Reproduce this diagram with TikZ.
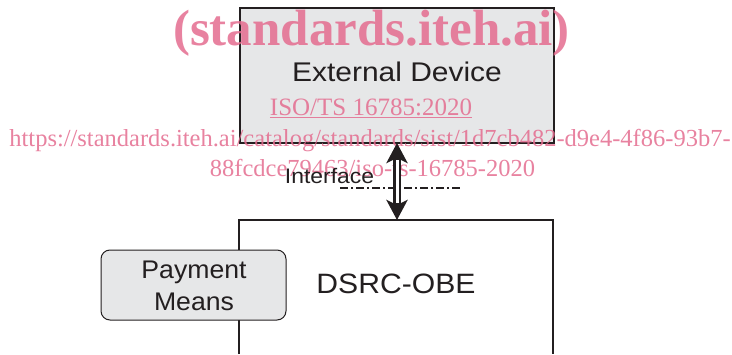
\documentclass[tikz,border=0pt]{standalone}
\usepackage{fontspec}
\setmainfont{Liberation Sans}
\newfontfamily\wmserif{Liberation Serif}
\usetikzlibrary{arrows.meta}
\definecolor{boxgray}{RGB}{230,231,232}
\definecolor{ink}{RGB}{35,31,32}
\definecolor{wmpink}{RGB}{228,108,143}
\newcommand{\stretchx}[2]{\scalebox{#1}[1]{#2}}
\newcommand{\fsz}[1]{\fontsize{#1}{#1}\selectfont}

\begin{document}
\begin{tikzpicture}[x=1pt, y=-1pt,
  every node/.style={inner sep=0pt, outer sep=0pt},
  frame/.style={draw=ink, line width=1.4pt},
  lbl/.style={text=ink, anchor=base},
  wm/.style={text=wmpink, text opacity=0.85, anchor=base},
  linkouter/.style={draw=ink, line width=7.4pt,
    arrows={Stealth[length=20pt, width=21pt, inset=5pt]-Stealth[length=20pt, width=21pt, inset=5pt]}},
  linkinner/.style={draw=white, line width=3pt, shorten <=17pt, shorten >=17pt}]
\useasboundingbox (0,0) rectangle (732,354);

% on-board equipment box, open towards the bottom
\node[minimum width=314pt, minimum height=134pt] (obe) at (396,287) {};
\draw[frame] (obe.south west) -- (obe.north west) -- (obe.north east) -- (obe.south east);

% external device box
\node[frame, fill=boxgray, minimum width=314pt, minimum height=135pt] (ext) at (397,75.5) {};

% payment means box
\node[draw=ink, line width=1pt, fill=boxgray, rounded corners=9pt,
      minimum width=185pt, minimum height=70pt] (pay) at (193.5,285) {};

% box labels
\node[lbl, font=\fsz{27}] (extlbl) at (397,81.7) {\stretchx{1.11}{External Device}};
\node[lbl, font=\fsz{28}] (obelbl) at (396,293.3) {\stretchx{1.076}{DSRC-OBE}};
\node[lbl, font=\fsz{25.5}] (pay1) at (194,278.3) {\stretchx{1.044}{Payment}};
\node[lbl, font=\fsz{25.5}] (pay2) at (194,310) {\stretchx{1.044}{Means}};

% watermark
\node[wm, font=\wmserif\bfseries\fsz{51}] (wm1) at (371.5,45) {(standards.iteh.ai)};
\node[wm, font=\wmserif\fsz{25}] (wm2) at (371,115) {\underline{ISO/TS 16785:2020}};
\node[wm, font=\wmserif\fsz{24.5}] (wm3) at (370,146) {https://standards.iteh.ai/catalog/standards/sist/1d7cb482-d9e4-4f86-93b7-};
\node[wm, font=\wmserif\fsz{24.5}] (wm4) at (372.5,176) {88fcdce79463/iso-ts-16785-2020};

% interface: dash-dot line and double-shafted two-way arrow
\coordinate (ifl) at (340,188);
\coordinate (ifr) at (460,188);
\draw[ink, line width=1.4pt, dash pattern=on 8pt off 3pt on 2pt off 3pt] (ifl) -- (ifr);
\node[lbl, font=\fsz{21}] (iflbl) at (329.5,183.3) {\stretchx{1.09}{Interface}};
\draw[linkouter] (ext.south) -- (ext.south |- obe.north);
\draw[linkinner] (ext.south) -- (ext.south |- obe.north);
\end{tikzpicture}
\end{document}
